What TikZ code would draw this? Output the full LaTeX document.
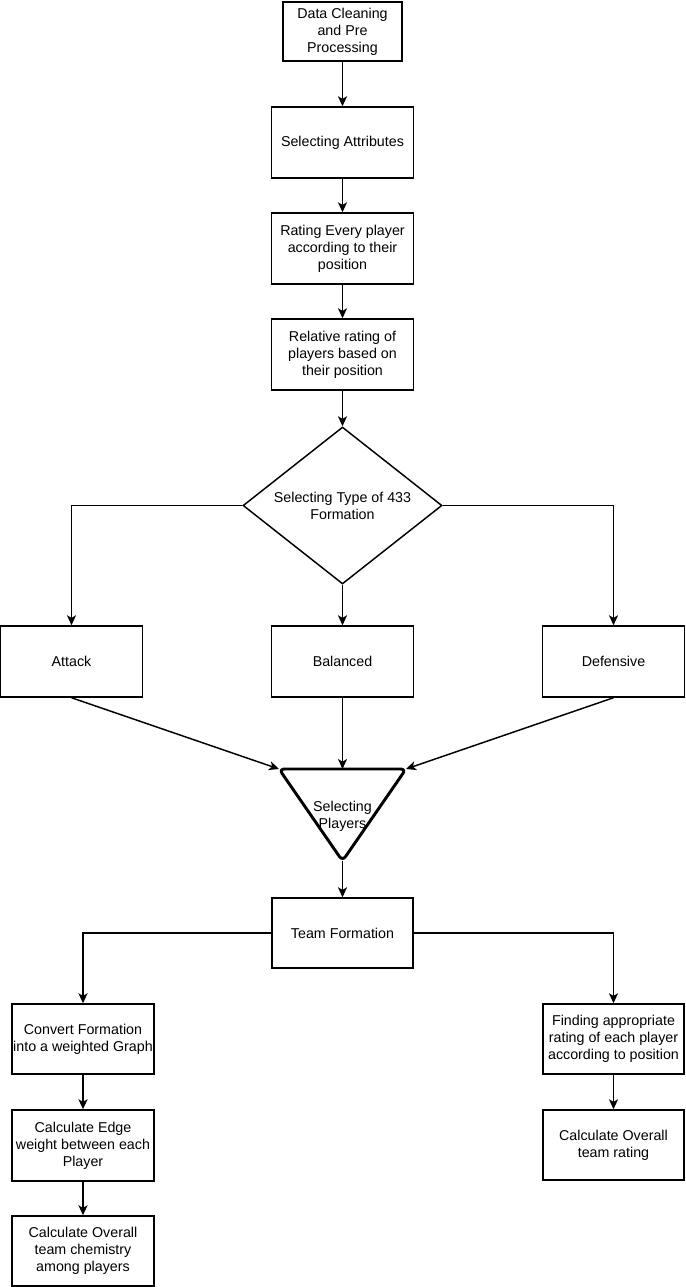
\documentclass[tikz,border=0pt]{standalone}
\usepackage{fontspec}
\setmainfont{Liberation Sans}
\usetikzlibrary{arrows.meta,shapes.geometric}
\tikzset{
  box/.style={draw, line width=1.1pt, rectangle, align=center, inner sep=0pt,
    minimum width=142*0.75pt, minimum height=71*0.75pt,
    font=\fontsize{10.7pt}{12.75pt}\selectfont},
  dec/.style={draw, line width=1.1pt, diamond, aspect=1.27, align=center, inner sep=0pt,
    minimum width=199*0.75pt, minimum height=157*0.75pt,
    font=\fontsize{10.7pt}{12.75pt}\selectfont},
  lbl/.style={align=center, inner sep=0pt, font=\fontsize{10.7pt}{12.75pt}\selectfont},
  arr/.style={line width=1.1pt, -{Stealth[length=7.5pt, width=6.8pt, inset=2pt]}},
  tri/.style={line width=2.2pt, line join=round, rounded corners=4pt}
}
\begin{document}
\begin{tikzpicture}[x=0.75pt,y=-0.75pt]
\useasboundingbox (0,0) rectangle (685,1287);
\node[box, minimum width=119*0.75pt, minimum height=59*0.75pt] (n1) at (342.5,31.5) {Data Cleaning\\and Pre\\Processing};
\node[box] (n2) at (342.5,142.5) {Selecting Attributes};
\node[box] (n3) at (342.5,248.5) {Rating Every player\\according to their\\position};
\node[box] (n4) at (342.5,354.5) {Relative rating of\\players based on\\their position};
\node[dec] (d) at (342.5,505.5) {Selecting Type of 433\\Formation};
\node[box] (att) at (71.5,661.5) {Attack};
\node[box] (bal) at (342.5,661.5) {Balanced};
\node[box] (def) at (613.5,661.5) {Defensive};
\coordinate (tl) at (279,769);
\coordinate (tr) at (406,769);
\coordinate (tt) at (342.5,769);
\coordinate (tb) at (342.5,861);
\draw[tri] (tt) -- (tr) -- (tb) -- (tl) -- cycle;
\node[lbl] (sp) at (342.5,816.5) {Selecting\\Players};
\node[box, minimum width=141*0.75pt, minimum height=70*0.75pt] (team) at (342.5,933) {Team Formation};
\node[box, minimum height=70*0.75pt] (conv) at (83,1039) {Convert Formation\\into a weighted Graph};
\node[box] (edge) at (83,1145.5) {Calculate Edge\\weight between each\\Player};
\node[box, minimum height=70*0.75pt] (chem) at (83,1251) {Calculate Overall\\team chemistry\\among players};
\node[box, minimum width=141*0.75pt, minimum height=70*0.75pt] (find) at (613.5,1039) {Finding appropriate\\rating of each player\\according to position};
\node[box, minimum width=141*0.75pt, minimum height=70*0.75pt] (over) at (613.5,1145) {Calculate Overall\\team rating};

\draw[arr] (n1) -- (n2);
\draw[arr] (n2) -- (n3);
\draw[arr] (n3) -- (n4);
\draw[arr] (n4) -- (d);
\draw[arr] (d.west) -| (att.north);
\draw[arr] (d.east) -| (def.north);
\draw[arr] (d.south) -- (bal.north);
\draw[arr] (att.south) -- (tl);
\draw[arr] (bal.south) -- (tt);
\draw[arr] (def.south) -- (tr);
\draw[arr] (tb) -- (team.north);
\draw[arr] (team.west) -| (conv.north);
\draw[arr] (team.east) -| (find.north);
\draw[arr] (conv) -- (edge);
\draw[arr] (edge) -- (chem);
\draw[arr] (find) -- (over);
\end{tikzpicture}
\end{document}
